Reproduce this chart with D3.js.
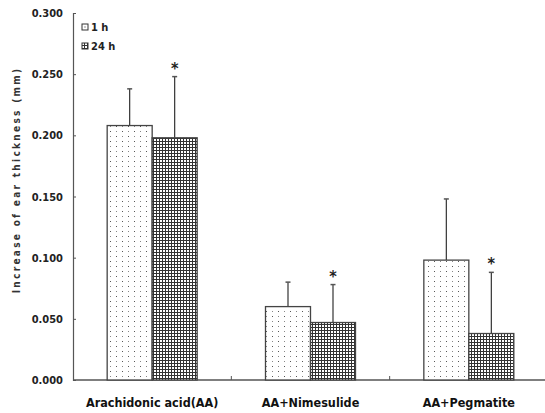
<!DOCTYPE html>
<html><head><meta charset="utf-8">
<script src="https://cdn.jsdelivr.net/npm/d3@7"></script>
<style>
body{margin:0;background:#fff;}
text{font-family:"DejaVu Sans Condensed","DejaVu Sans",sans-serif;font-weight:bold;}
</style></head>
<body><svg id="c" width="545" height="413"></svg>
<script>
const categories = ["Arachidonic acid(AA)", "AA+Nimesulide", "AA+Pegmatite"];
const seriesNames = ["1 h", "24 h"];
const mean1h = [0.208, 0.060, 0.098];
const sd1h = [0.030, 0.020, 0.050];
const mean24h = [0.198, 0.047, 0.038];
const sd24h = [0.050, 0.031, 0.050];
const sig24h = [true, true, true];
const yTicks = [0, 0.05, 0.1, 0.15, 0.2, 0.25, 0.3];

const svg = d3.select("#c");
const defs = svg.append("defs");
// dot pattern
const pd = defs.append("pattern").attr("id","dots").attr("patternUnits","userSpaceOnUse")
  .attr("width",12).attr("height",10).attr("x",109).attr("y",0);
pd.append("rect").attr("width",12).attr("height",10).attr("fill","#fff");
[[1,1],[7,6]].forEach(([x,y])=>pd.append("rect").attr("x",x).attr("y",y).attr("width",1).attr("height",1).attr("fill","#555"));
[[7,1],[1,6]].forEach(([x,y])=>pd.append("rect").attr("x",x).attr("y",y).attr("width",1).attr("height",1).attr("fill","#888"));
// grid pattern
const pg = defs.append("pattern").attr("id","grid").attr("patternUnits","userSpaceOnUse")
  .attr("width",3).attr("height",3);
pg.append("rect").attr("width",3).attr("height",3).attr("fill","#fff");
pg.append("rect").attr("x",0).attr("y",0).attr("width",1).attr("height",3).attr("fill","#333");
pg.append("rect").attr("x",0).attr("y",0).attr("width",3).attr("height",1).attr("fill","#333");

const x0 = 73, x1 = 548, yBottom = 380, yTop = 13;
const x = d3.scaleBand().domain(categories).range([x0, x1]).padding(0);
const xs = d3.scaleBand().domain(seriesNames).range([0, 90]);
const y = d3.scaleLinear().domain([0, 0.3]).range([yBottom, yTop]);
const axisColor = "#555";

// y axis
const yAxis = d3.axisRight(y).tickValues(yTicks).tickSize(3).tickFormat("");
const ya = svg.append("g").attr("transform",`translate(${x0},0)`).call(yAxis);
ya.select(".domain").attr("stroke",axisColor).attr("stroke-width",1.2);
ya.selectAll(".tick line").attr("stroke",axisColor);
svg.append("g").selectAll("text").data(yTicks).join("text")
  .attr("x",63).attr("y",d=>y(d)+4).attr("text-anchor","end")
  .attr("font-size",11).attr("fill","#222").text(d=>d.toFixed(3));

// x axis
svg.append("line").attr("x1",x0).attr("x2",x1).attr("y1",yBottom).attr("y2",yBottom)
  .attr("stroke",axisColor).attr("stroke-width",1.5);
svg.append("g").selectAll("line").data(categories.slice(1)).join("line")
  .attr("x1",d=>x(d)).attr("x2",d=>x(d)).attr("y1",yBottom).attr("y2",yBottom-4)
  .attr("stroke",axisColor);
svg.append("g").selectAll("text").data(categories).join("text")
  .attr("x",d=>x(d)+x.bandwidth()/2).attr("y",407).attr("text-anchor","middle")
  .attr("font-size",12.5).attr("fill","#111").text(d=>d);

// bars
const groupOff = (x.bandwidth()-90)/2;
const series = [
  {name:"1 h", mean:mean1h, sd:sd1h, fill:"url(#dots)"},
  {name:"24 h", mean:mean24h, sd:sd24h, fill:"url(#grid)"}
];
series.forEach(s=>{
  const g = svg.append("g");
  const data = categories.map((c,i)=>({c, m:s.mean[i], sd:s.sd[i], i}));
  const bx = d=>x(d.c)+groupOff+xs(s.name);
  // error bars
  g.selectAll(".eb").data(data).join("line")
    .attr("x1",d=>bx(d)+xs.bandwidth()/2).attr("x2",d=>bx(d)+xs.bandwidth()/2)
    .attr("y1",d=>y(d.m)).attr("y2",d=>y(d.m+d.sd)).attr("stroke","#333").attr("stroke-width",1.2);
  g.selectAll(".cap").data(data).join("line")
    .attr("x1",d=>bx(d)+xs.bandwidth()/2-2.5).attr("x2",d=>bx(d)+xs.bandwidth()/2+2.5)
    .attr("y1",d=>y(d.m+d.sd)).attr("y2",d=>y(d.m+d.sd)).attr("stroke","#555").attr("stroke-width",1.5);
  g.selectAll("rect").data(data).join("rect")
    .attr("x",d=>bx(d)).attr("y",d=>y(d.m)).attr("width",xs.bandwidth()).attr("height",d=>yBottom-y(d.m))
    .attr("fill",s.fill).attr("stroke","#444").attr("stroke-width",1.3);
  if(s.name==="24 h"){
    g.selectAll(".star").data(data.filter(d=>sig24h[d.i])).join("text")
      .attr("x",d=>bx(d)+xs.bandwidth()/2).attr("y",d=>y(d.m+d.sd)-3)
      .attr("text-anchor","middle").attr("font-size",16).attr("fill","#222").text("*");
  }
});

// legend
const lg = svg.append("g");
series.forEach((s,i)=>{
  const yy = 30 + i*19;
  lg.append("rect").attr("x",82).attr("y",yy-6).attr("width",6).attr("height",6)
    .attr("fill", i===0 ? "#fff" : "url(#grid)").attr("stroke","#333").attr("stroke-width",1);
  if(i===0) lg.append("rect").attr("x",84.5).attr("y",yy-3.5).attr("width",1).attr("height",1).attr("fill","#333");
  lg.append("text").attr("x",91).attr("y",yy+1).attr("font-size",11).attr("fill","#222").text(s.name);
});

// y title
svg.append("text").attr("transform","translate(20,180) rotate(-90)")
  .attr("text-anchor","middle").attr("font-size",10).attr("letter-spacing",2.3)
  .attr("fill","#333").text("Increase of ear thickness (mm)");
</script></body></html>
